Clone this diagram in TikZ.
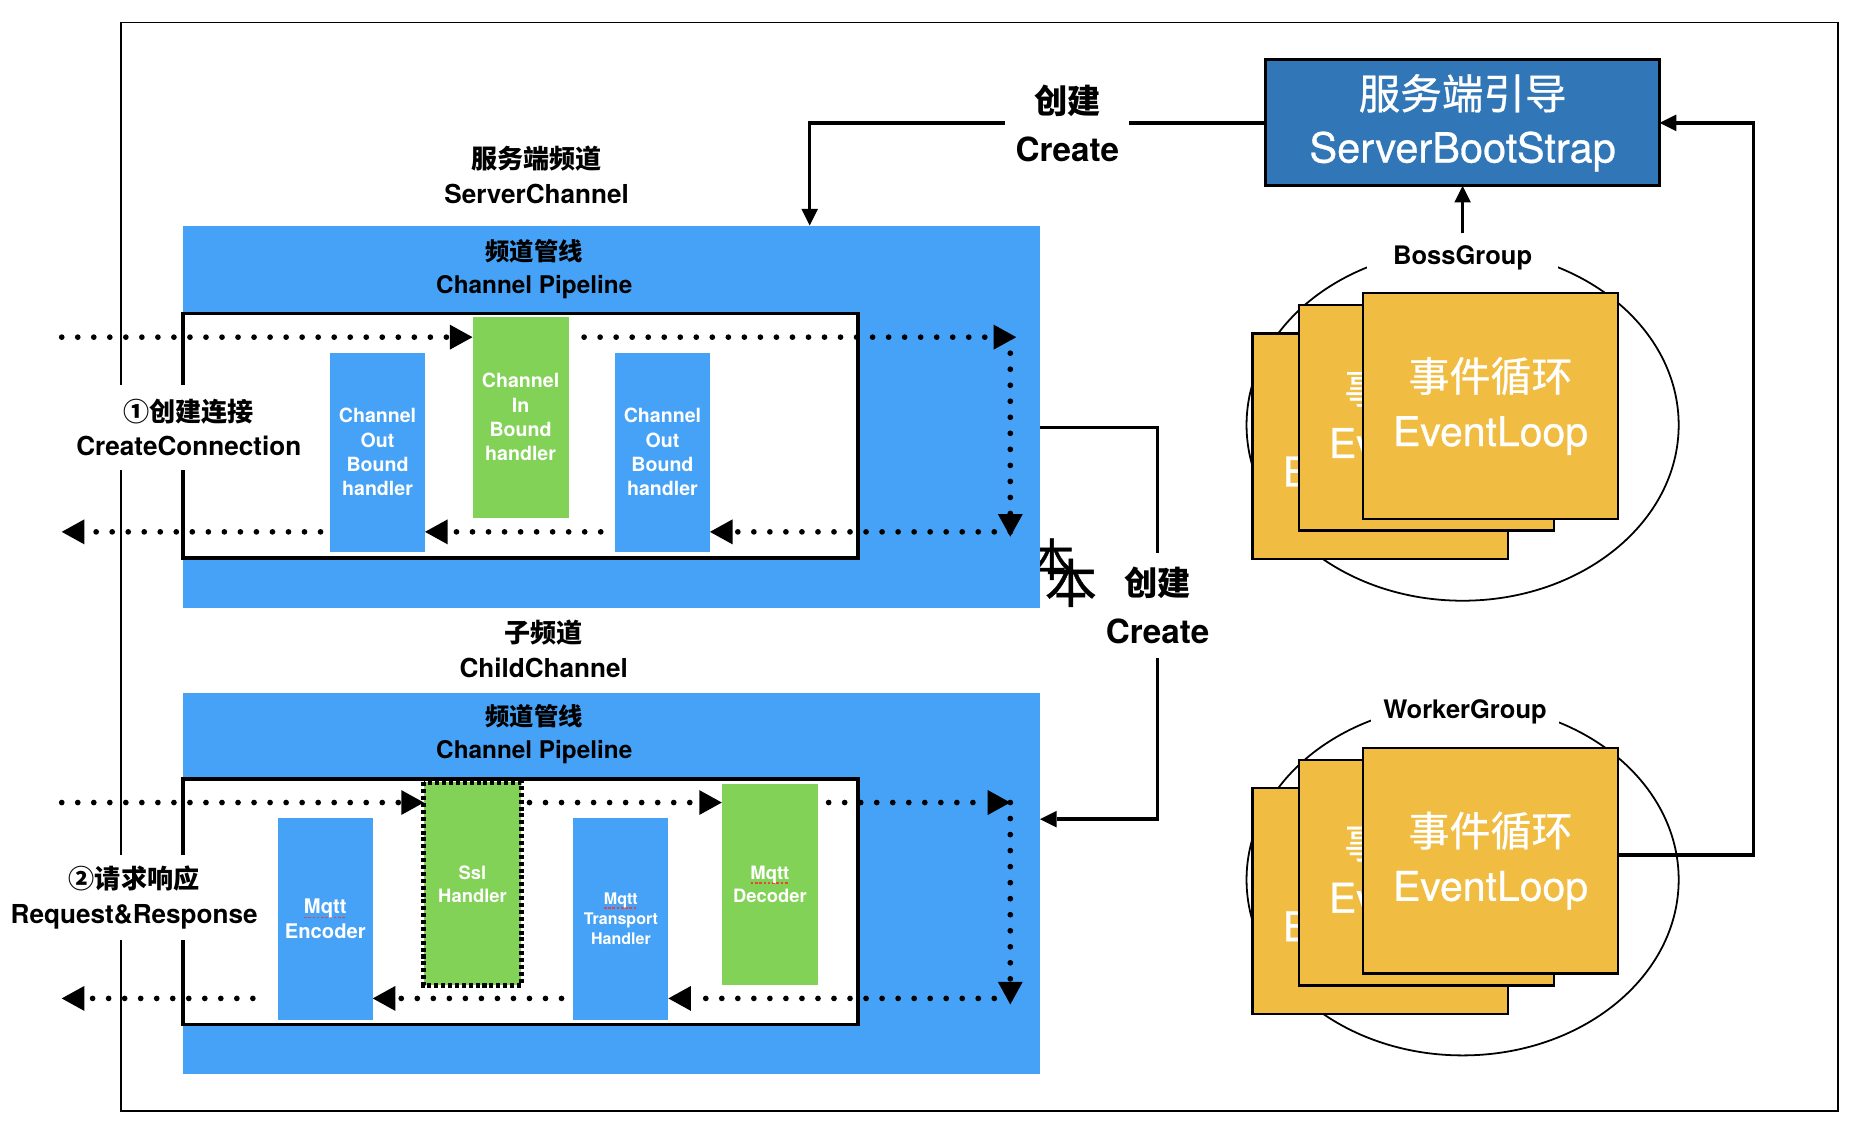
\documentclass[tikz,border=0pt]{standalone}
\usepackage{fontspec}
\setmainfont{TeX Gyre Heros}
\newfontfamily\cjk{Noto Sans CJK SC}
\newfontfamily\medfont[FakeBold=0.7]{TeX Gyre Heros}
\newfontfamily\cjkmed[FakeBold=0.7]{Noto Sans CJK SC}
\usetikzlibrary{arrows.meta,shapes.geometric}
\definecolor{pipeblue}{HTML}{45A2F7}
\definecolor{hgreen}{HTML}{81D256}
\definecolor{bootblue}{HTML}{3176B6}
\definecolor{loopyellow}{HTML}{F0BC41}
\definecolor{spellred}{HTML}{E8453C}
\newcommand\fs[2]{\fontsize{#1pt}{#2pt}\selectfont}
\newcommand\spl[1]{\setbox0\hbox{#1}\rlap{\smash{\raisebox{-4pt}{\color{spellred}\hbox to\wd0{\xleaders\hbox{\rule{2.2pt}{1.5pt}\hspace{1.3pt}}\hfill}}}}\box0}
\tikzset{
  rbox/.style={inner sep=0pt, outer sep=0pt, anchor=north west},
  pipebox/.style={rbox, fill=pipeblue, minimum width=722pt},
  pipeinner/.style={rbox, fill=white, draw=black, line width=3.2pt, minimum width=569pt},
  bluehd/.style={rbox, fill=pipeblue, text=white, align=center},
  greenhd/.style={rbox, fill=hgreen, text=white, align=center},
  loopbox/.style={rbox, fill=loopyellow, draw=black, line width=2pt, text=white, align=center,
    font=\medfont\fs{34.5}{46}, minimum width=215pt, minimum height=190pt},
  lbl/.style={fill=white, align=center, inner xsep=2pt},
  grp/.style={ellipse, draw=black, line width=1.5pt, inner sep=0pt, minimum width=364pt, minimum height=296pt},
  dotarrow/.style={line width=4.8pt, line cap=round, dash pattern=on 0pt off 13.5pt,
    -{Triangle[length=19pt,width=21pt,line width=0pt]}},
  conn/.style={line width=3pt},
  connarrow/.style={conn, -{Triangle[length=14pt,width=14pt,line width=0pt]}}
}
\begin{document}
\begin{tikzpicture}[x=1pt,y=-1pt]
\useasboundingbox (0,0) rectangle (1560,957);
% outer frame
\node[rbox, draw=black, line width=1.5pt, minimum width=1446pt, minimum height=917pt] (frame) at (102,19) {};
% stray glyphs behind the top pipeline
\node[inner sep=0pt, font=\cjkmed\fs{38}{38}] (gA) at (886,471) {本};
\node[inner sep=0pt, font=\cjkmed\fs{44}{44}] (gB) at (902,491) {本};
% ---------- top pipeline ----------
\node[font=\bfseries\fs{22}{29.5}, align=center] (sc) at (452,147.5) {{\cjk 服务端频道}\\ServerChannel};
\node[pipebox, minimum height=322pt] (toppipe) at (154,190) {};
\node[font=\bfseries\fs{20.5}{27.5}, align=center] (tt) at (450,226.5) {{\cjk 频道管线}\\Channel Pipeline};
\node[pipeinner, minimum height=206pt] (topinner) at (154,264) {};
\node[bluehd, minimum width=80pt, minimum height=168pt, font=\bfseries\fs{16.5}{20.5}] (out1) at (278,297) {Channel\\Out\\Bound\\handler};
\node[greenhd, minimum width=81pt, minimum height=169pt, font=\bfseries\fs{16.5}{20.5}] (in1) at (398,267) {Channel\\In\\Bound\\handler};
\node[bluehd, minimum width=80pt, minimum height=168pt, font=\bfseries\fs{16.5}{20.5}] (out2) at (518,297) {Channel\\Out\\Bound\\handler};
\coordinate (tA) at (52,284);
\coordinate (tB) at (492,284);
\coordinate (tC) at (856,284);
\coordinate (tV1) at (851,284);
\coordinate (tV2) at (851,452);
\coordinate (tD) at (851,448);
\coordinate (tE) at (506,448);
\coordinate (tF) at (270,448);
\coordinate (tG) at (52,448);
\draw[dotarrow] (tA) -- (in1.west |- tA);
\draw[dotarrow] (tB) -- (tC);
\draw[dotarrow] (tV1) -- (tV2);
\draw[dotarrow] (tD) -- (out2.east |- tD);
\draw[dotarrow] (tE) -- (out1.east |- tE);
\draw[dotarrow] (tF) -- (tG);
\node[lbl, inner ysep=12pt, font=\bfseries\fs{22}{29}] (cc) at (159,360) {{\cjk ①创建连接}\\CreateConnection};
% ---------- child pipeline ----------
\node[font=\bfseries\fs{22}{29.5}, align=center] (chc) at (458,546.5) {{\cjk 子频道}\\ChildChannel};
\node[pipebox, minimum height=321pt] (botpipe) at (154,584) {};
\node[font=\bfseries\fs{20.5}{27.5}, align=center] (bt) at (450,618.5) {{\cjk 频道管线}\\Channel Pipeline};
\node[pipeinner, minimum height=207pt] (botinner) at (154,656) {};
\node[bluehd, minimum width=80pt, minimum height=170pt, font=\bfseries\fs{17}{21}] (enc) at (234,689) {\spl{Mqtt}\\Encoder};
\node[greenhd, minimum width=82pt, minimum height=171pt, font=\bfseries\fs{15.5}{19.5}] (ssl) at (357,659) {Ssl\\Handler};
\draw[line width=4pt, dash pattern=on 3.4pt off 2.4pt] (ssl.north west) rectangle (ssl.south east);
\node[bluehd, minimum width=80pt, minimum height=170pt, font=\bfseries\fs{13.5}{17}] (trans) at (483,689) {\spl{Mqtt}\\Transport\\Handler};
\node[greenhd, minimum width=81pt, minimum height=170pt, font=\bfseries\fs{15.5}{19.5}] (dec) at (608,660) {\spl{Mqtt}\\Decoder};
\coordinate (bA) at (52,676);
\coordinate (bB) at (446,676);
\coordinate (bC) at (698,676);
\coordinate (bC2) at (851,676);
\coordinate (bV2) at (851,846);
\coordinate (bD) at (851,841);
\coordinate (bE) at (473,841);
\coordinate (bF) at (213,841);
\coordinate (bG) at (52,841);
\draw[dotarrow] (bA) -- (ssl.west |- bA);
\draw[dotarrow] (bB) -- (dec.west |- bB);
\draw[dotarrow] (bC) -- (bC2);
\draw[dotarrow] (bC2) -- (bV2);
\draw[dotarrow] (bD) -- (trans.east |- bD);
\draw[dotarrow] (bE) -- (enc.east |- bE);
\draw[dotarrow] (bF) -- (bG);
\node[lbl, inner ysep=9.5pt, font=\bfseries\fs{22}{29.5}] (rr) at (113,756) {{\cjk ②请求响应}\\Request\&Response};
% ---------- server bootstrap ----------
\node[rbox, fill=bootblue, draw=black, line width=2.5pt, minimum width=332pt, minimum height=106pt,
  text=white, align=center, font=\medfont\fs{35}{45}] (boot) at (1066,50.5) {{\cjkmed 服务端引导}\\ServerBootStrap};
% ---------- boss group ----------
\node[grp] (bossell) at (1232,358) {};
\node[fill=white, inner xsep=22pt, inner ysep=3pt, font=\bfseries\fs{21.5}{21.5}] (boss) at (1232,217) {BossGroup};
\node[loopbox] (bback) at (1055,281) {{\cjkmed 事件循环}\\EventLoop};
\node[loopbox] (bmid) at (1094,257) {{\cjkmed 事件循环}\\EventLoop};
\node[loopbox] (bfront) at (1148,247) {{\cjkmed 事件循环}\\EventLoop};
% ---------- worker group ----------
\node[grp] (workell) at (1232,741) {};
\node[fill=white, inner xsep=10pt, inner ysep=3pt, font=\bfseries\fs{21.5}{21.5}] (work) at (1234,600) {WorkerGroup};
\node[loopbox] (wback) at (1055,664) {{\cjkmed 事件循环}\\EventLoop};
\node[loopbox] (wmid) at (1094,640) {{\cjkmed 事件循环}\\EventLoop};
\node[loopbox] (wfront) at (1148,630) {{\cjkmed 事件循环}\\EventLoop};
% ---------- connectors ----------
\coordinate (toparr) at (682,190);
\draw[connarrow] (boot.west) -| (toparr);
\node[lbl, inner xsep=8.5pt, inner ysep=4pt, font=\bfseries\fs{28}{40}] (cr1) at (899,104) {{\cjk 创建}\\Create};
\coordinate (m1) at (toppipe.east |- 0,360);
\coordinate (m2) at (975,360);
\coordinate (m3) at (975,690);
\draw[connarrow] (m1) -- (m2) -- (m3) -- (botpipe.east |- m3);
\node[lbl, inner xsep=4pt, inner ysep=12pt, font=\bfseries\fs{28}{40}] (cr2) at (975,510) {{\cjk 创建}\\Create};
\draw[connarrow] ([yshift=7pt]boss.north) -- (boot.south);
\coordinate (r1) at (wfront.east |- 0,720);
\coordinate (r2) at (1477,720);
\coordinate (r3) at (1477,103.5);
\draw[connarrow] (r1) -- (r2) -- (r3) -- (boot.east);
\end{tikzpicture}
\end{document}
